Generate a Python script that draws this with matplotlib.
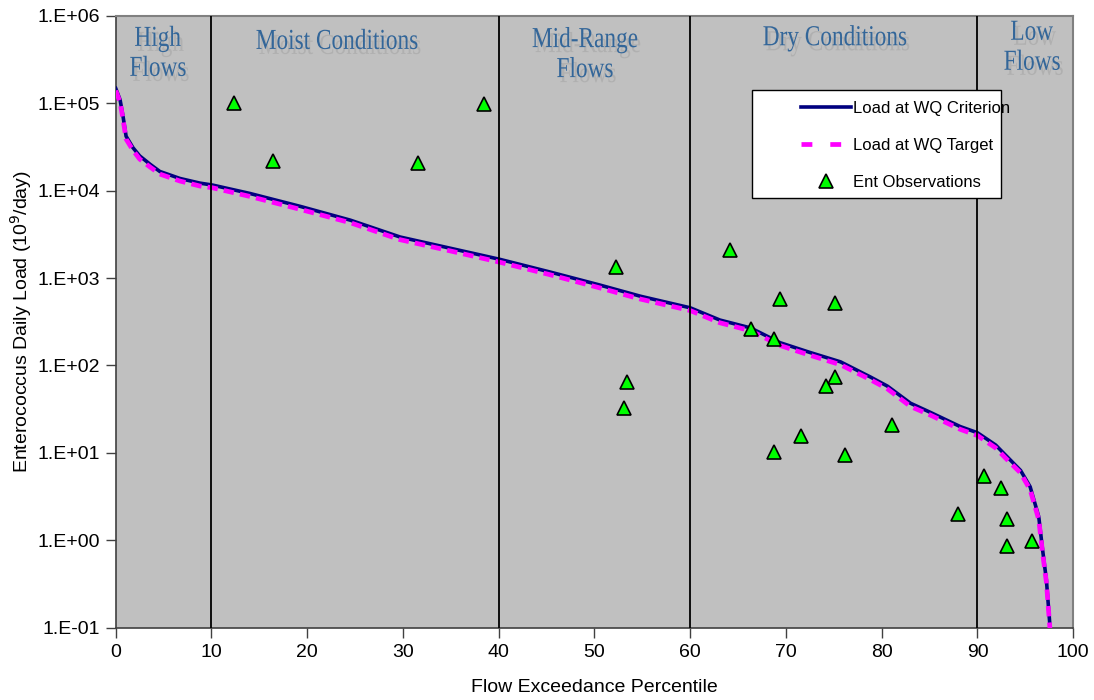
import numpy as np
import matplotlib.pyplot as plt
from matplotlib.ticker import FixedLocator, FuncFormatter, NullLocator
from matplotlib.textpath import TextPath
from matplotlib.patches import PathPatch, Rectangle
from matplotlib.font_manager import FontProperties
from matplotlib.transforms import Affine2D
from matplotlib.lines import Line2D

# load duration curve (flow exceedance percentile vs daily load, 10^9/day)
pct = [0, 0.45, 0.76, 1.08, 1.8, 2.5, 3.6, 4.6, 6.7, 8.8, 10.1, 14.0, 19.3, 24.5,
       29.7, 34.9, 40.1, 45.4, 50.6, 54.8, 60.0, 63.1, 66.3, 69.4, 72.5, 75.7,
       78.8, 80.6, 83.0, 85.1, 88.2, 90.0, 91.9, 92.9, 94.5, 95.5, 96.4, 96.8,
       97.2, 97.6, 97.8]
crit_load = [1.48e5, 1.10e5, 7.1e4, 4.2e4, 3.1e4, 2.5e4, 2.0e4, 1.66e4, 1.38e4,
             1.22e4, 1.16e4, 9.3e3, 6.6e3, 4.6e3, 2.95e3, 2.2e3, 1.64e3, 1.17e3,
             830, 620, 457, 331, 269, 182, 141, 110, 74, 58, 37, 29, 20, 17, 12.3,
             9.5, 6.3, 4.1, 1.86, 0.78, 0.35, 0.095, 0.04]
target_load = [1.40e5, 1.03e5, 6.6e4, 3.9e4, 2.9e4, 2.3e4, 1.86e4, 1.55e4, 1.29e4,
               1.13e4, 1.08e4, 8.6e3, 6.1e3, 4.3e3, 2.75e3, 2.05e3, 1.52e3, 1.09e3,
               770, 575, 425, 308, 250, 169, 131, 102, 69, 54, 34, 27, 18.6, 15.8,
               11.4, 8.8, 5.9, 3.8, 1.73, 0.72, 0.33, 0.088, 0.037]

# enterococcus observations
obs_pct = [12.4, 16.4, 31.6, 38.5, 52.2, 53.4, 53.1, 64.2, 66.3, 69.4, 68.8, 68.8,
           71.6, 75.1, 75.1, 74.2, 76.2, 81.1, 88.0, 90.7, 92.5, 93.1, 93.1, 95.7]
obs_load = [1.0e5, 2.2e4, 2.1e4, 9.8e4, 1.35e3, 65, 33, 2.1e3, 260, 570, 200, 10.2,
            15.8, 520, 74, 59, 9.5, 21, 2.0, 5.5, 4.0, 1.74, 0.85, 0.98]

zone_edges = [10, 40, 60, 90]
zone_names = ['High\nFlows', 'Moist Conditions', 'Mid-Range\nFlows',
              'Dry Conditions', 'Low\nFlows']
zone_x = [4.4, 23.1, 49.0, 75.1, 95.7]
zone_y = [0.951, 0.946, 0.949, 0.952, 0.961]   # baseline of first line, axes fraction

xticks = list(range(0, 101, 10))
yticks = [1e-1, 1e0, 1e1, 1e2, 1e3, 1e4, 1e5, 1e6]

plt.rcParams['font.family'] = ['Liberation Sans', 'DejaVu Sans']

fig = plt.figure(figsize=(10.94, 7.0), dpi=100)
ax = fig.add_axes([0.1058, 0.1033, 0.8752, 0.874])
ax.set_facecolor('#C0C0C0')

ax.plot(pct, crit_load, color='#000080', lw=2.6, zorder=3)
ax.plot(pct, target_load, color='#FF00FF', lw=3.4, dashes=(2.2, 1.3), zorder=4)

for xe in zone_edges:
    ax.axvline(xe, color='black', lw=1.3, zorder=5)

ax.plot(obs_pct, obs_load, ls='none', marker='^', ms=10, mfc='#00FF00', mec='black',
        mew=1.2, zorder=6)

ax.set_yscale('log')
ax.set_xlim(0, 100)
ax.set_ylim(0.1, 1e6)
ax.xaxis.set_major_locator(FixedLocator(xticks))
ax.yaxis.set_major_locator(FixedLocator(yticks))
ax.yaxis.set_minor_locator(NullLocator())
ax.yaxis.set_major_formatter(FuncFormatter(lambda v, p: '1.E%+03d' % int(round(np.log10(v)))))
ax.tick_params(axis='both', direction='out', length=7, width=1, color='#404040',
               labelsize=14)
ax.tick_params(axis='x', pad=5)
ax.tick_params(axis='y', pad=4)

for side in ['left', 'bottom']:
    ax.spines[side].set_color('#404040')
    ax.spines[side].set_linewidth(1.2)
for side in ['top', 'right']:
    ax.spines[side].set_color('#808080')
    ax.spines[side].set_linewidth(1.5)

ax.set_xlabel('Flow Exceedance Percentile', fontsize=14, labelpad=13)
ax.set_ylabel('Enterococcus Daily Load (10$^9$/day)', fontsize=14, labelpad=3)

# zone titles: tall serif lettering with a light drop shadow
serif = FontProperties(family='Liberation Serif')
em_x, em_y = 23.3, 29.0
line_step = 30.0
for name, zx, zy in zip(zone_names, zone_x, zone_y):
    bx, by = ax.get_xaxis_transform().transform((zx, zy))
    for i, line in enumerate(name.split('\n')):
        tp = TextPath((0, 0), line, size=1, prop=serif)
        ext = tp.get_extents()
        tr = (Affine2D().translate(-(ext.x0 + ext.x1) / 2, 0).scale(em_x, em_y)
              .translate(bx, by - i * line_step))
        fig.add_artist(PathPatch(tp, transform=tr + Affine2D().translate(3, -5),
                                 fc='#B0B0B0', ec='none', zorder=7))
        fig.add_artist(PathPatch(tp, transform=tr, fc='#336699', ec='none', zorder=8))

# legend box
ax.add_patch(Rectangle((0.665, 0.702), 0.26, 0.177, transform=ax.transAxes,
                       fc='white', ec='black', lw=1.0, zorder=9))
handles = [Line2D([], [], color='#000080', lw=2.6),
           Line2D([], [], color='#FF00FF', lw=3.4, dashes=(2.3, 3.8)),
           Line2D([], [], ls='none', marker='^', ms=10, mfc='#00FF00', mec='black', mew=1.2)]
labels = ['Load at WQ Criterion', 'Load at WQ Target', 'Ent Observations']
leg = ax.legend(handles, labels, loc='upper left', bbox_to_anchor=(0.716, 0.861),
                fontsize=12, frameon=False, handlelength=3.0, labelspacing=1.32,
                borderpad=0, handletextpad=0.12, borderaxespad=0)
leg.set_zorder(10)

fig.savefig('out.png', dpi=100)
